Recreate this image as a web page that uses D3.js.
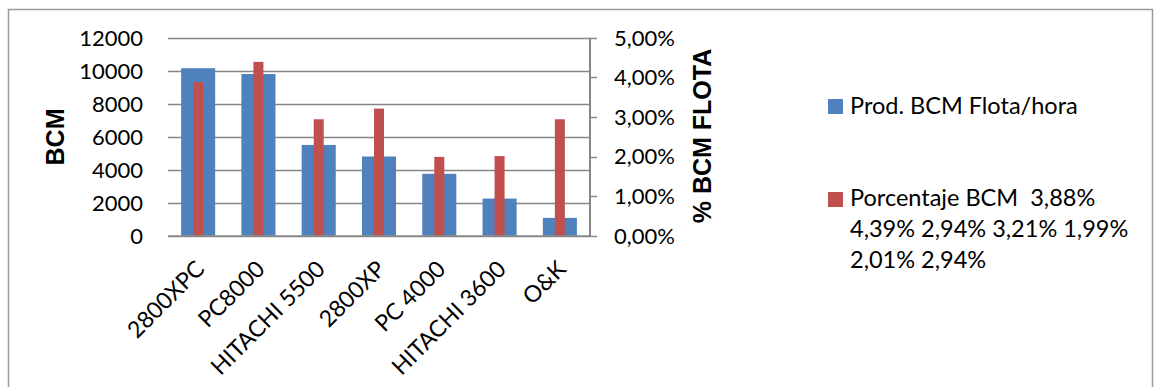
<!DOCTYPE html>
<html>
<head>
<meta charset="utf-8">
<script src="https://cdn.jsdelivr.net/npm/d3@7"></script>
<style>
  html, body { margin: 0; padding: 0; background: #fff; }
  svg { display: block; }
  text { font-family: Lato, "Open Sans", sans-serif; fill: #000; }
</style>
</head>
<body>
<svg id="chart" width="1155" height="387"></svg>
<script>
const categories = ["2800XPC", "PC8000", "HITACHI 5500", "2800XP", "PC 4000", "HITACHI 3600", "O&K"];
const prodBCM = [10150, 9800, 5500, 4800, 3750, 2250, 1080];
const pctBCM = [3.88, 4.39, 2.94, 3.21, 1.99, 2.01, 2.94];
const leftTicks = [0, 2000, 4000, 6000, 8000, 10000, 12000];
const rightTicks = [0, 1, 2, 3, 4, 5];
const seriesNames = ["Prod. BCM Flota/hora", "Porcentaje BCM  3,88%", "4,39% 2,94% 3,21% 1,99%", "2,01% 2,94%"];

const svg = d3.select("#chart");
const blue = "#4F81BD", red = "#C0504D", grid = "#868686";

// outer frame
svg.append("rect").attr("x", 8.5).attr("y", 9.5).attr("width", 1144).attr("height", 400)
  .attr("fill", "none").attr("stroke", "#9a9a9a").attr("stroke-width", 1.5);

const plot = { left: 168, right: 590, top: 37.7, bottom: 235.7 };

const x = d3.scaleBand().domain(categories).range([plot.left, plot.right]).paddingInner(0).paddingOuter(0);
const yL = d3.scaleLinear().domain([0, 12000]).range([plot.bottom, plot.top]);
const yR = d3.scaleLinear().domain([0, 5]).range([plot.bottom, plot.top]);

// gridlines
svg.append("g").selectAll("line").data(leftTicks.filter(d => d > 0)).join("line")
  .attr("x1", plot.left).attr("x2", plot.right)
  .attr("y1", d => Math.round(yL(d)) + 0.5).attr("y2", d => Math.round(yL(d)) + 0.5)
  .attr("stroke", grid).attr("stroke-width", 1.3);

// left tick labels
svg.append("g").selectAll("text").data(leftTicks).join("text")
  .attr("x", 143).attr("y", d => yL(d)).attr("dy", "0.36em")
  .attr("text-anchor", "end").style("font-size", "22px")
  .text(d => d);

// bars
const bw = x.bandwidth();
const blueW = bw * 0.565, redW = bw * 0.166;
svg.append("g").selectAll("rect").data(categories).join("rect")
  .attr("x", (d) => x(d) + (bw - blueW) / 2)
  .attr("width", blueW)
  .attr("y", (d, i) => yL(prodBCM[i]))
  .attr("height", (d, i) => plot.bottom - yL(prodBCM[i]))
  .attr("fill", blue);
svg.append("g").selectAll("rect").data(categories).join("rect")
  .attr("x", (d) => x(d) + (bw - redW) / 2)
  .attr("width", redW)
  .attr("y", (d, i) => yR(pctBCM[i]))
  .attr("height", (d, i) => plot.bottom - yR(pctBCM[i]))
  .attr("fill", red);

// x axis baseline
svg.append("line").attr("x1", plot.left).attr("x2", plot.right)
  .attr("y1", plot.bottom + 0.5).attr("y2", plot.bottom + 0.5)
  .attr("stroke", grid).attr("stroke-width", 2);

// right axis
const rAxis = svg.append("g");
rAxis.append("line").attr("x1", plot.right).attr("x2", plot.right)
  .attr("y1", plot.top).attr("y2", plot.bottom + 1)
  .attr("stroke", grid).attr("stroke-width", 2);
rAxis.selectAll("line.tick").data(rightTicks).join("line").attr("class", "tick")
  .attr("x1", plot.right).attr("x2", plot.right + 7)
  .attr("y1", d => Math.round(yR(d)) + 0.5).attr("y2", d => Math.round(yR(d)) + 0.5)
  .attr("stroke", grid).attr("stroke-width", 1.5);
rAxis.selectAll("text").data(rightTicks).join("text")
  .attr("x", 614).attr("y", d => yR(d)).attr("dy", "0.36em")
  .style("font-size", "22px")
  .text(d => d3.format(".2f")(d).replace(".", ",") + "%");

// x labels
svg.append("g").selectAll("text").data(categories).join("text")
  .attr("transform", d => `translate(${x(d) + bw / 2 - 2},${plot.bottom + 25}) rotate(-45)`)
  .attr("text-anchor", "end").attr("dy", "0.6em")
  .style("font-size", "23px")
  .text(d => d);

// axis titles
svg.append("text")
  .attr("transform", `translate(64,137) rotate(-90)`)
  .attr("text-anchor", "middle")
  .style("font-family", "'Liberation Sans', Arial, sans-serif")
  .style("font-weight", "bold").style("font-size", "25px")
  .text("BCM");
svg.append("text")
  .attr("transform", `translate(711,136) rotate(-90)`)
  .attr("text-anchor", "middle")
  .style("font-family", "'Liberation Sans', Arial, sans-serif")
  .style("font-weight", "bold").style("font-size", "25px")
  .text("% BCM FLOTA");

// legend
const lg = svg.append("g");
lg.append("rect").attr("x", 828).attr("y", 99).attr("width", 15).attr("height", 15).attr("fill", blue);
lg.append("text").attr("x", 850).attr("y", 114).style("font-size", "23.5px").text(seriesNames[0]);
lg.append("rect").attr("x", 828).attr("y", 192).attr("width", 15).attr("height", 15).attr("fill", red);
lg.selectAll("text.l2").data(seriesNames.slice(1)).join("text").attr("class", "l2")
  .attr("x", 850).attr("y", (d, i) => 206 + i * 31)
  .style("font-size", "23.5px").style("white-space", "pre")
  .text(d => d);
</script>
</body>
</html>
